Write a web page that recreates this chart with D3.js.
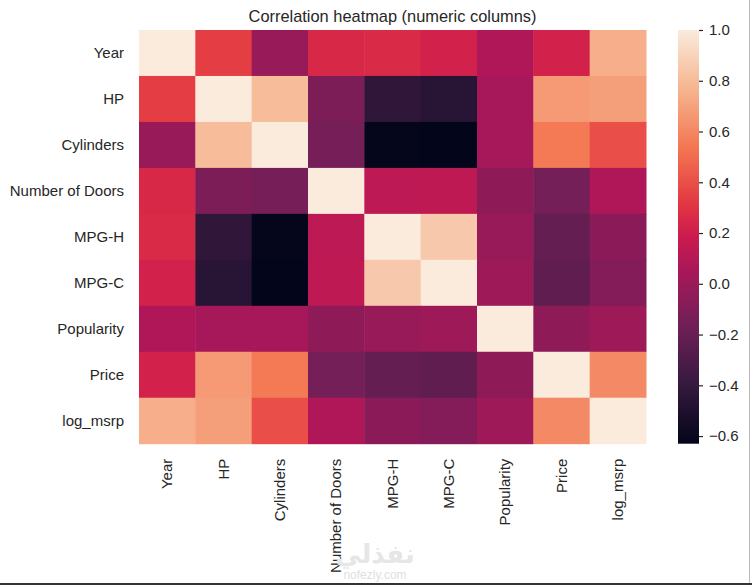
<!DOCTYPE html>
<html>
<head>
<meta charset="utf-8">
<script src="https://cdn.jsdelivr.net/npm/d3@7"></script>
<style>
  body { margin: 0; background: #fff; }
  svg text { font-family: "Liberation Sans", Arial, sans-serif; fill: #262626; }
</style>
</head>
<body>
<svg id="chart" width="752" height="585"></svg>
<script>
// column names (same order on both axes)
var columns = ["Year", "HP", "Cylinders", "Number of Doors", "MPG-H", "MPG-C", "Popularity", "Price", "log_msrp"];

// correlation rows
var yearRow       = [ 1.00,  0.34, -0.01,  0.25,  0.26,  0.22,  0.08,  0.22,  0.75];
var hpRow         = [ 0.34,  1.00,  0.80, -0.12, -0.42, -0.46,  0.04,  0.67,  0.69];
var cylindersRow  = [-0.01,  0.80,  1.00, -0.14, -0.62, -0.63,  0.04,  0.55,  0.40];
var doorsRow      = [ 0.25, -0.12, -0.14,  1.00,  0.13,  0.14, -0.05, -0.15,  0.08];
var mpgHRow       = [ 0.26, -0.42, -0.62,  0.13,  1.00,  0.85, -0.01, -0.21, -0.06];
var mpgCRow       = [ 0.22, -0.46, -0.63,  0.14,  0.85,  1.00,  0.01, -0.23, -0.09];
var popularityRow = [ 0.08,  0.04,  0.04, -0.05, -0.01,  0.01,  1.00, -0.05,  0.01];
var priceRow      = [ 0.22,  0.67,  0.55, -0.15, -0.21, -0.23, -0.05,  1.00,  0.61];
var logMsrpRow    = [ 0.75,  0.69,  0.40,  0.08, -0.06, -0.09,  0.01,  0.61,  1.00];

var colorbarTicks = [-0.6, -0.4, -0.2, 0.0, 0.2, 0.4, 0.6, 0.8, 1.0];

// seaborn "rocket" palette anchors
var rocketColors = ["#03051a", "#35193e", "#701f57", "#ad1759", "#cb1b4f", "#e13342", "#f37651", "#f6b48f", "#faebdd"];
var rocketPos    = [0, 1/7, 2/7, 3/7, 0.5, 4/7, 5/7, 6/7, 1];

var matrix = [yearRow, hpRow, cylindersRow, doorsRow, mpgHRow, mpgCRow, popularityRow, priceRow, logMsrpRow];

var svg = d3.select("#chart");

var plotLeft = 139, plotRight = 646, plotTop = 30, plotBottom = 443.7;
var cbLeft = 678, cbWidth = 21;

var vmin = d3.min(matrix, function(r){ return d3.min(r); });
var vmax = 1;

var rocket = d3.scaleLinear().domain(rocketPos).range(rocketColors).interpolate(d3.interpolateRgb);
var color = function(v){ return rocket((v - vmin) / (vmax - vmin)); };

var x = d3.scaleBand().domain(columns).range([plotLeft, plotRight]);
var y = d3.scaleBand().domain(columns).range([plotTop, plotBottom]);

// cells
var cells = [];
matrix.forEach(function(row, i){
  row.forEach(function(v, j){ cells.push({row: columns[i], col: columns[j], v: v}); });
});

svg.append("g").selectAll("rect").data(cells).enter().append("rect")
  .attr("x", function(d){ return x(d.col); })
  .attr("y", function(d){ return y(d.row); })
  .attr("width", x.bandwidth() + 0.5)
  .attr("height", y.bandwidth() + 0.5)
  .attr("fill", function(d){ return color(d.v); });

// row labels
svg.append("g").selectAll("text").data(columns).enter().append("text")
  .attr("x", plotLeft - 15)
  .attr("y", function(d){ return y(d) + y.bandwidth() / 2; })
  .attr("dy", "0.35em")
  .attr("text-anchor", "end")
  .style("font-size", "15px")
  .text(function(d){ return d; });

// column labels, rotated
svg.append("g").selectAll("text").data(columns).enter().append("text")
  .attr("transform", function(d){ return "translate(" + (x(d) + x.bandwidth() / 2) + "," + (plotBottom + 15) + ") rotate(-90)"; })
  .attr("dy", "0.35em")
  .attr("text-anchor", "end")
  .style("font-size", "15px")
  .text(function(d){ return d; });

// title
svg.append("text")
  .attr("x", (plotLeft + plotRight) / 2)
  .attr("y", plotTop - 8)
  .attr("text-anchor", "middle")
  .style("font-size", "16.4px")
  .text("Correlation heatmap (numeric columns)");

// colorbar
var cbScale = d3.scaleLinear().domain([vmin, vmax]).range([plotBottom, plotTop]);
var grad = svg.append("defs").append("linearGradient")
  .attr("id", "cbgrad").attr("x1", 0).attr("y1", 1).attr("x2", 0).attr("y2", 0);
d3.range(0, 1.0001, 0.02).forEach(function(t){
  grad.append("stop").attr("offset", t).attr("stop-color", rocket(t));
});
svg.append("rect")
  .attr("x", cbLeft).attr("y", plotTop)
  .attr("width", cbWidth).attr("height", plotBottom - plotTop)
  .attr("fill", "url(#cbgrad)");

var cbAxis = d3.axisRight(cbScale).tickValues(colorbarTicks).tickFormat(d3.format(".1f")).tickSize(4).tickPadding(6);
var cbG = svg.append("g").attr("transform", "translate(" + (cbLeft + cbWidth) + ",0)").call(cbAxis);
cbG.select(".domain").remove();
cbG.selectAll(".tick line").attr("stroke", "#262626").attr("stroke-width", 1.2);
cbG.selectAll(".tick text").style("font-size", "15px").style("font-family", "'Liberation Sans', Arial, sans-serif").attr("fill", "#262626");

// faint watermark
svg.append("text").attr("x", 375).attr("y", 563).attr("text-anchor", "middle")
  .style("font-family", "'DejaVu Sans', sans-serif").style("font-size", "26px").style("font-weight", "bold")
  .style("fill", "#e6e6e6").text("نفذلي");
svg.append("text").attr("x", 375).attr("y", 579).attr("text-anchor", "middle")
  .style("font-size", "12px").style("fill", "#e0e0e0").text("nofezly.com");

// frame edges
svg.append("line").attr("x1", 749.5).attr("x2", 749.5).attr("y1", 0).attr("y2", 585).attr("stroke", "#bbb");
svg.append("line").attr("x1", 0).attr("x2", 752).attr("y1", 584).attr("y2", 584).attr("stroke", "#333").attr("stroke-width", 2);
</script>
</body>
</html>
